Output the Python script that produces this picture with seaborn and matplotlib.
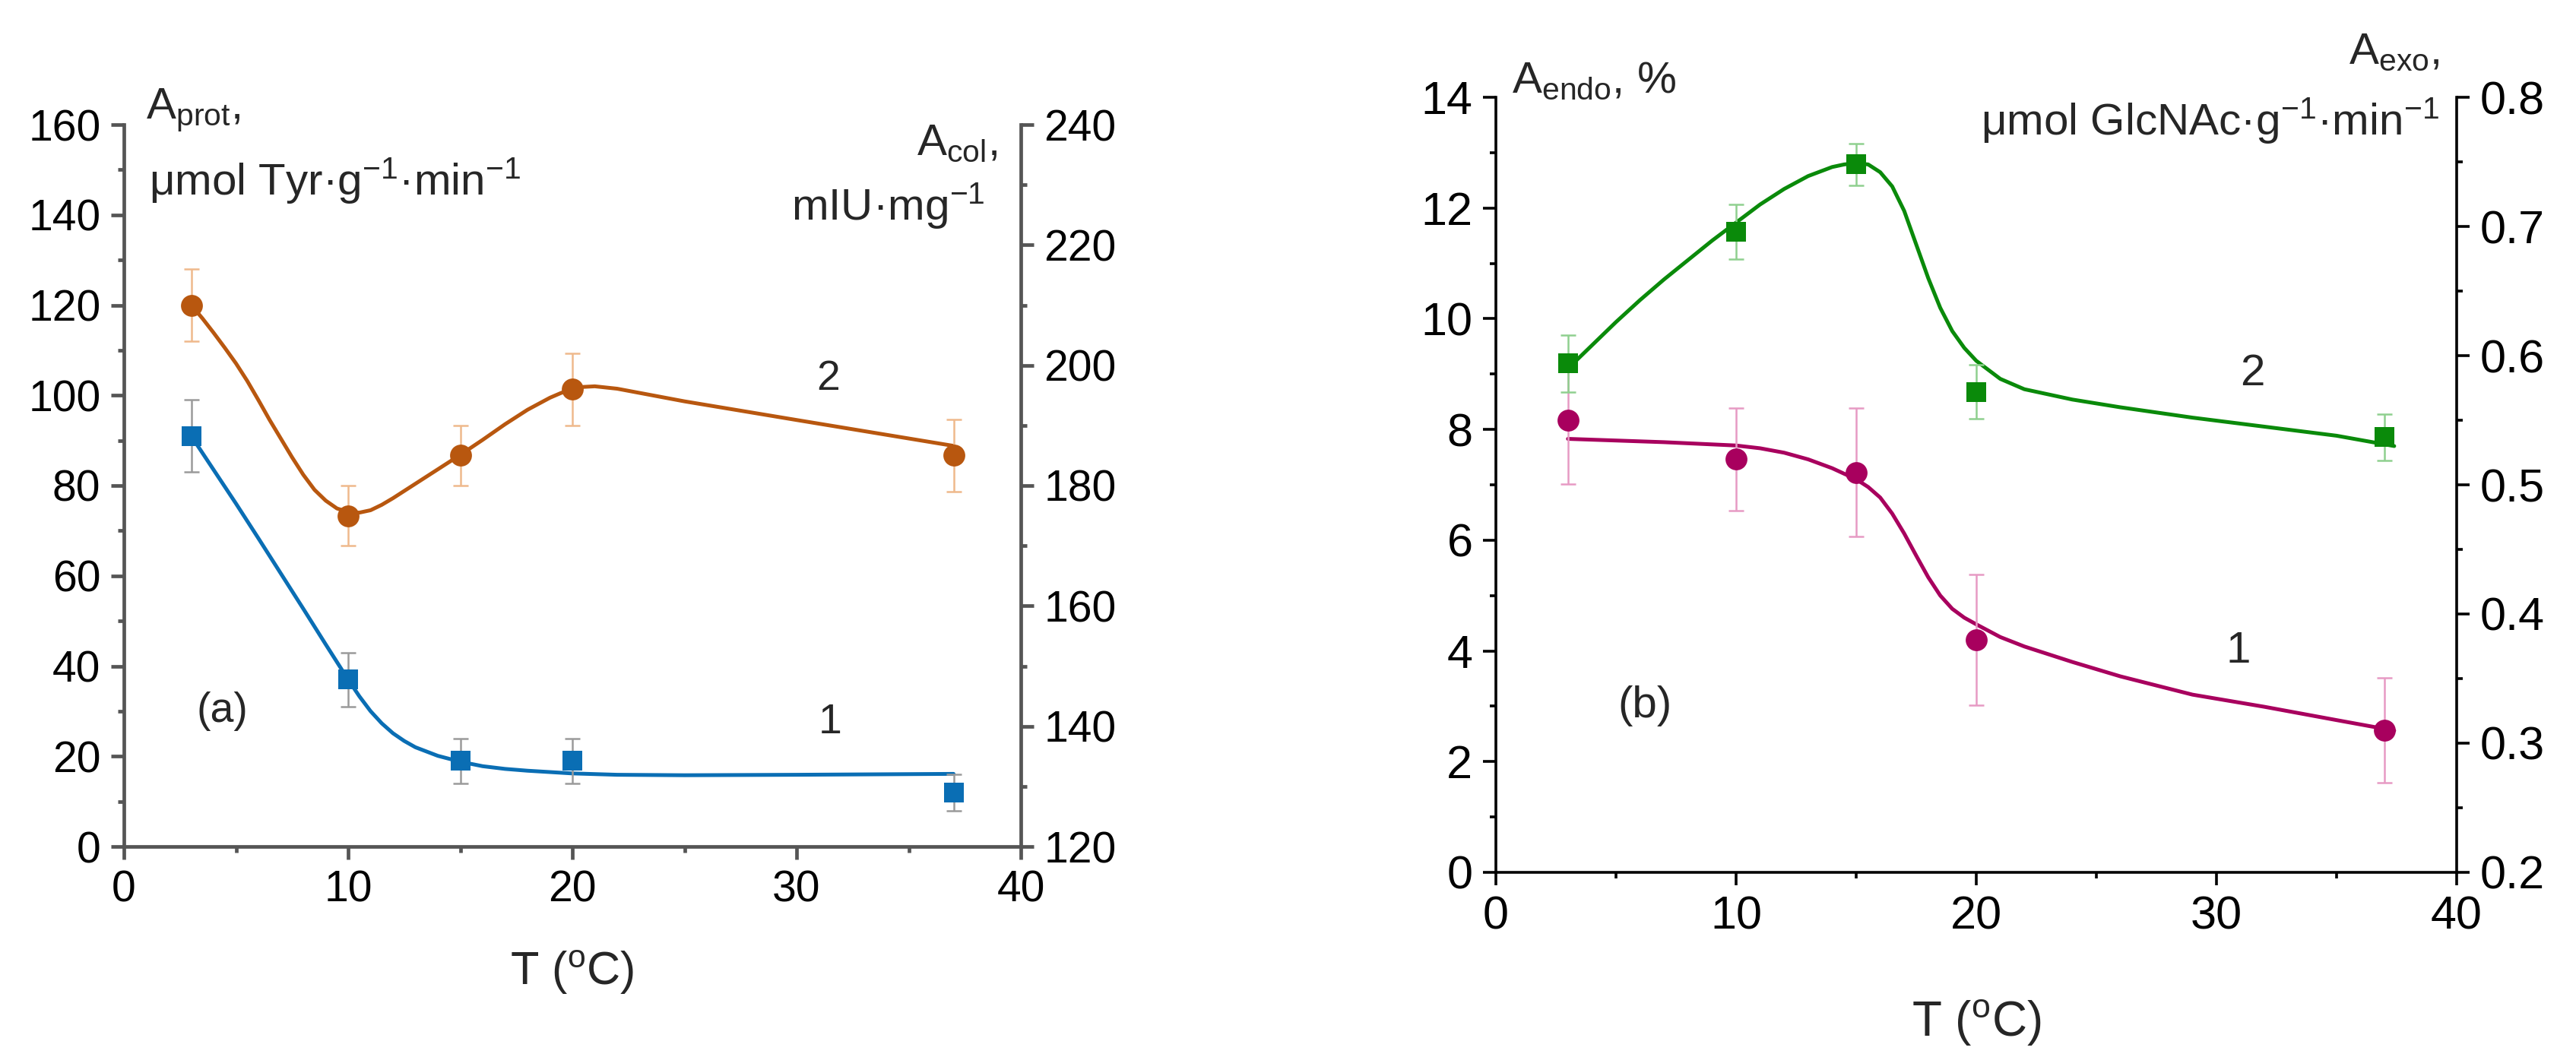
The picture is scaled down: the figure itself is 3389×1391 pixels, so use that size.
import matplotlib
matplotlib.use("Agg")
import matplotlib.pyplot as plt
import numpy as np
import pandas as pd
import seaborn as sns
from matplotlib.ticker import MultipleLocator

# ---------------------------------------------------------------------------
# data
# ---------------------------------------------------------------------------
temp = [3, 10, 15, 20, 37]

# panel (a): curve 1 = A_prot (left axis), curve 2 = A_col (right axis)
prot_mean = [91, 37, 19, 19, 12]
prot_err = [8, 6, 5, 5, 4]
col_mean = [210, 175, 185, 196, 185]
col_err = [6, 5, 5, 6, 6]

# fitted curves as drawn in the reference
prot_fit_t = [3, 4, 5, 6, 7, 8, 9, 10, 10.5, 11, 11.5, 12, 12.5, 13, 14, 15, 16, 17, 18,
              20, 22, 25, 30, 37]
prot_fit_y = [91, 83.5, 76, 68.3, 60.5, 52.7, 44.8, 37, 33.3, 30.0, 27.3, 25.1, 23.4, 22.0,
              20.1, 18.8, 17.8, 17.2, 16.8, 16.2, 15.9, 15.8, 15.9, 16.1]
col_fit_t = [3, 3.5, 4, 4.5, 5, 5.5, 6, 6.5, 7, 7.5, 8, 8.5, 9, 9.5, 10, 10.5, 11, 11.5,
             12, 13, 14, 15, 16, 17, 18, 19, 19.5, 20, 20.5, 21, 22, 25, 30, 37]
col_fit_y = [210, 207.8, 205.4, 202.9, 200.3, 197.4, 194.2, 190.9, 187.8, 184.7, 181.8,
             179.3, 177.5, 176.2, 175.6, 175.5, 175.9, 176.8, 177.9, 180.3, 182.7, 185.1,
             187.6, 190.2, 192.6, 194.6, 195.4, 196.0, 196.4, 196.5, 196.1, 194.0, 190.9,
             186.6]

# panel (b): curve 1 = A_endo (left axis), curve 2 = A_exo (right axis)
endo_mean = [8.16, 7.46, 7.22, 4.2, 2.57]
endo_err = [1.15, 0.93, 1.16, 1.18, 0.95]
exo_mean = [0.594, 0.696, 0.748, 0.572, 0.537]
exo_err = [0.022, 0.021, 0.016, 0.021, 0.018]

endo_fit_t = [3, 5, 7, 9, 10, 11, 12, 13, 14, 15, 15.5, 16, 16.5, 17, 17.5, 18, 18.5, 19,
              19.5, 20, 21, 22, 24, 26, 29, 32, 35, 37.4]
endo_fit_y = [7.83, 7.80, 7.77, 7.73, 7.71, 7.66, 7.58, 7.46, 7.30, 7.10, 6.96, 6.77, 6.48,
              6.12, 5.72, 5.33, 5.00, 4.76, 4.60, 4.48, 4.25, 4.08, 3.80, 3.54, 3.21, 2.99,
              2.75, 2.56]
exo_fit_t = [3, 4, 5, 6, 7, 8, 9, 10, 11, 12, 13, 14, 14.5, 15, 15.5, 16, 16.5, 17, 17.5,
             18, 18.5, 19, 19.5, 20, 21, 22, 24, 26, 29, 32, 35, 37.4]
exo_fit_y = [0.590, 0.608, 0.626, 0.643, 0.659, 0.674, 0.689, 0.703, 0.717, 0.729, 0.739,
             0.746, 0.748, 0.749, 0.748, 0.742, 0.731, 0.712, 0.686, 0.660, 0.637, 0.619,
             0.606, 0.596, 0.582, 0.574, 0.566, 0.560, 0.552, 0.545, 0.538, 0.530]

BLUE = "#0a6eb4"
ORANGE = "#b8570f"
GREEN = "#0a8a0a"
WINE = "#a8005e"

sns.set_style("ticks")
plt.rcParams["font.family"] = ["Liberation Sans", "DejaVu Sans"]
plt.rcParams["mathtext.fontset"] = "custom"
plt.rcParams["mathtext.rm"] = "Liberation Sans"
plt.rcParams["mathtext.it"] = "Liberation Sans:italic"
plt.rcParams["mathtext.default"] = "rm"

W, H = 3389, 1391
fig = plt.figure(figsize=(W / 100, H / 100), dpi=100)


def box(x0, y0, x1, y1):
    return [x0 / W, 1 - y1 / H, (x1 - x0) / W, (y1 - y0) / H]


def style_axes(ax, twin, color, fs, lw):
    for a in (ax, twin):
        for s in a.spines.values():
            s.set_color(color)
            s.set_linewidth(lw)
        a.spines["top"].set_visible(False)
        a.tick_params(which="major", direction="out", length=12, width=lw,
                      color=color, labelsize=fs, pad=10, labelcolor="black")
        a.tick_params(which="minor", direction="out", length=6, width=lw, color=color)
    ax.spines["right"].set_visible(False)
    twin.spines["left"].set_visible(False)
    twin.spines["bottom"].set_visible(False)


def draw(ax, t, mean, err, fit_t, fit_y, color, marker, ecolor, ms):
    sns.lineplot(x=fit_t, y=fit_y, ax=ax, color=color, lw=3.6, sort=False, zorder=2)
    ax.errorbar(temp, mean, yerr=err, fmt="none", ecolor=ecolor, elinewidth=1.8,
                capsize=7, capthick=1.8, zorder=3)
    sns.scatterplot(x=t, y=mean, ax=ax, color=color, marker=marker, s=ms,
                    edgecolor=color, linewidth=0, zorder=4)


# ---------------------------------------------------------------------------
# panel (a)
# ---------------------------------------------------------------------------
ax1 = fig.add_axes(box(163, 164, 1343, 1114))
ax1b = ax1.twinx()
draw(ax1, temp, prot_mean, prot_err, prot_fit_t, prot_fit_y, BLUE, "s", "#9a9a9a", 340)
draw(ax1b, temp, col_mean, col_err, col_fit_t, col_fit_y, ORANGE, "o", "#efb98c", 430)

ax1.set_xlim(0, 40)
ax1.set_ylim(0, 160)
ax1b.set_ylim(120, 240)
ax1.xaxis.set_major_locator(MultipleLocator(10))
ax1.xaxis.set_minor_locator(MultipleLocator(5))
ax1.yaxis.set_major_locator(MultipleLocator(20))
ax1.yaxis.set_minor_locator(MultipleLocator(10))
ax1b.yaxis.set_major_locator(MultipleLocator(20))
ax1b.yaxis.set_minor_locator(MultipleLocator(10))
style_axes(ax1, ax1b, "#555555", 41, 3.4)
ax1.set_xlabel(r"T ($^{\mathrm{o}}$C)", fontsize=44, labelpad=36)
ax1.set_ylabel("")
ax1b.set_ylabel("")

fs_a = 42
ax1.text(0.025, 1.008, r"A$_{\mathrm{prot}}$,", transform=ax1.transAxes, fontsize=fs_a,
         va="baseline", ha="left")
ax1.text(0.028, 0.903, r"μmol Tyr·g$^{-1}$·min$^{-1}$", transform=ax1.transAxes,
         fontsize=fs_a, va="baseline", ha="left")
ax1.text(0.974, 0.958, r"A$_{\mathrm{col}}$,", transform=ax1.transAxes, fontsize=fs_a,
         va="baseline", ha="right")
ax1.text(0.960, 0.868, r"mIU·mg$^{-1}$", transform=ax1.transAxes, fontsize=fs_a,
         va="baseline", ha="right")
ax1.text(4.4, 30, "(a)", fontsize=40, ha="center", va="center")
ax1.text(31.5, 27.5, "1", fontsize=40, ha="center", va="center")
ax1.text(31.4, 103.5, "2", fontsize=40, ha="center", va="center")

# ---------------------------------------------------------------------------
# panel (b)
# ---------------------------------------------------------------------------
ax2 = fig.add_axes(box(1968, 128, 3232, 1148))
ax2b = ax2.twinx()
draw(ax2, temp, endo_mean, endo_err, endo_fit_t, endo_fit_y, WINE, "o", "#e79ac4", 430)
draw(ax2b, temp, exo_mean, exo_err, exo_fit_t, exo_fit_y, GREEN, "s", "#8fd08f", 340)

ax2.set_xlim(0, 40)
ax2.set_ylim(0, 14)
ax2b.set_ylim(0.2, 0.8)
ax2.xaxis.set_major_locator(MultipleLocator(10))
ax2.xaxis.set_minor_locator(MultipleLocator(5))
ax2.yaxis.set_major_locator(MultipleLocator(2))
ax2.yaxis.set_minor_locator(MultipleLocator(1))
ax2b.yaxis.set_major_locator(MultipleLocator(0.1))
ax2b.yaxis.set_minor_locator(MultipleLocator(0.05))
style_axes(ax2, ax2b, "black", 44, 2.6)
ax2.set_xlabel(r"T ($^{\mathrm{o}}$C)", fontsize=46, labelpad=56)
ax2.set_ylabel("")
ax2b.set_ylabel("")

fs_b = 42
ax2.text(0.017, 1.006, r"A$_{\mathrm{endo}}$, %", transform=ax2.transAxes, fontsize=fs_b,
         va="baseline", ha="left")
ax2.text(0.982, 1.043, r"A$_{\mathrm{exo}}$,", transform=ax2.transAxes, fontsize=fs_b,
         va="baseline", ha="right")
ax2.text(0.982, 0.952, r"μmol GlcNAc·g$^{-1}$·min$^{-1}$", transform=ax2.transAxes,
         fontsize=fs_b, va="baseline", ha="right")
ax2.text(6.2, 3.0, "(b)", fontsize=42, ha="center", va="center")
ax2.text(30.9, 4.0, "1", fontsize=42, ha="center", va="center")
ax2.text(31.5, 9.0, "2", fontsize=42, ha="center", va="center")

fig.savefig("out.png", dpi=100)
